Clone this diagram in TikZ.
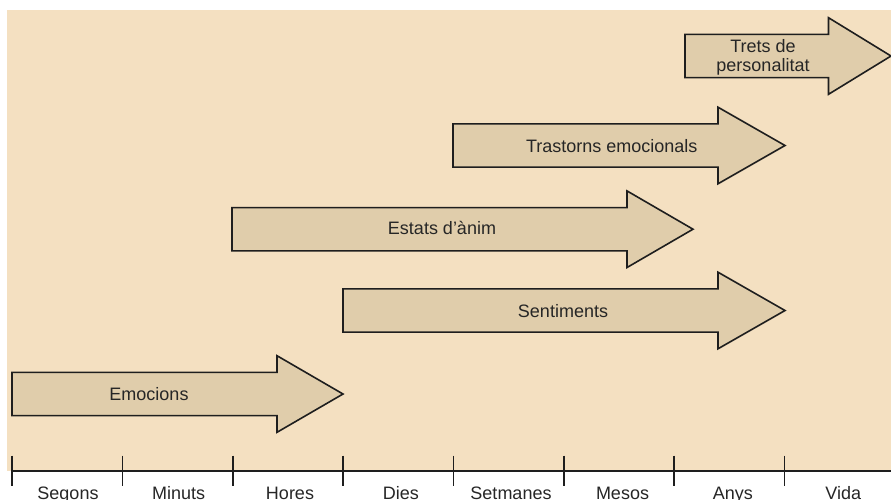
\documentclass[tikz,border=0pt]{standalone}
\usepackage{fontspec}
\setmainfont{Liberation Sans}
\definecolor{bgtan}{HTML}{F4E0C1}
\definecolor{arrowfill}{HTML}{E0CDAB}
\definecolor{inkline}{HTML}{1E1E1E}
\definecolor{inktext}{HTML}{262626}
% one wide block arrow: left x, head base x, tip x, centre y
\newcommand\spanarrow[4]{%
  \draw[bigarrow] (#1,#4-21.6) -- (#2,#4-21.6) -- (#2,#4-38.3) -- (#3,#4)
    -- (#2,#4+38.3) -- (#2,#4+21.6) -- (#1,#4+21.6) -- cycle;}
\begin{document}
\begin{tikzpicture}[x=1pt,y=-1pt,
  bigarrow/.style={fill=arrowfill,draw=inkline,line width=1.6pt,line join=miter},
  lbl/.style={text=inktext,font=\fontsize{18}{20}\selectfont,inner sep=0pt,anchor=base},
  axisline/.style={draw=inkline,line width=1.5pt},
  tickmark/.style={draw=inkline,line width=1.6pt}]
\useasboundingbox (0,0) rectangle (891,499);
\fill[bgtan] (7,10) rectangle (891,471);

% durations of the affective phenomena
\spanarrow{12}{277}{343}{394}
\spanarrow{343}{718}{785}{310.5}
\spanarrow{232}{627}{693}{229.2}
\spanarrow{453}{718}{785}{145.5}
\spanarrow{685}{828.5}{891}{56}

\node[lbl] (emo) at (149,400.7) {Emocions};
\node[lbl] (sent) at (563,317.3) {Sentiments};
\node[lbl] (estats) at (442,234) {Estats d’ànim};
\node[lbl] (trast) at (611.7,152.3) {Trastorns emocionals};
\node[lbl] (trets1) at (763,52.3) {Trets de};
\node[lbl] (trets2) at (763,71) {personalitat};

% time axis
\coordinate (axL) at (12,471);
\coordinate (axR) at (891,471);
\draw[axisline] (axL) -- (axR);
\foreach \tx in {12,122.3,232.7,343,453.3,563.7,674,784.3}
  \draw[tickmark] (\tx,455.7) -- (\tx,486);

\node[lbl] (t1) at (68,499.7) {Segons};
\node[lbl] (t2) at (178.7,499.7) {Minuts};
\node[lbl] (t3) at (290,499.7) {Hores};
\node[lbl] (t4) at (400.8,499.7) {Dies};
\node[lbl] (t5) at (511,499.7) {Setmanes};
\node[lbl] (t6) at (622.5,499.7) {Mesos};
\node[lbl] (t7) at (732.8,499.7) {Anys};
\node[lbl] (t8) at (843.3,499.7) {Vida};
\end{tikzpicture}
\end{document}
